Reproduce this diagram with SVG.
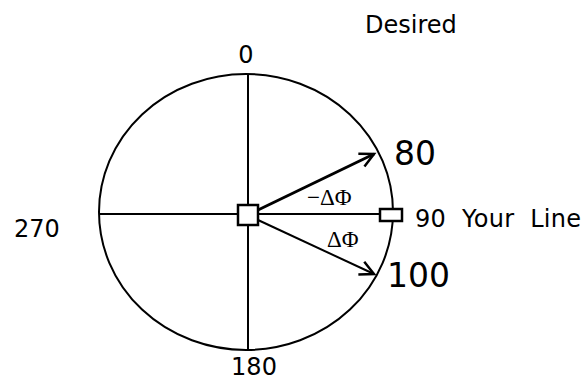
<svg xmlns="http://www.w3.org/2000/svg" width="586" height="380" viewBox="0 0 586 380">
<style>
.ln{stroke:#000;stroke-width:2;fill:none}
.box{fill:#fff;stroke:#000;stroke-width:2.5}
.lbl{font-family:"DejaVu Sans",sans-serif;fill:#000}
.sm{font-size:24px}
.big{font-size:33px}
.ser{font-family:"Liberation Serif","Times New Roman",serif;font-size:23px;fill:#000}
</style>
<defs>
<marker id="ah" markerUnits="userSpaceOnUse" markerWidth="30" markerHeight="30" refX="15" refY="15" orient="auto" viewBox="0 0 30 30">
<path d="M1 8 L15 15 L1 22" fill="none" stroke="#000" stroke-width="2.5"/>
</marker>
</defs>
<g id="dial">
<ellipse class="ln" cx="246" cy="212" rx="147" ry="138"/>
</g>
<g id="connectors">
<line class="ln" x1="248" y1="74" x2="248" y2="350"/>
<line class="ln" x1="99" y1="214" x2="380" y2="214"/>
<line class="ln" style="stroke-width:3" x1="258" y1="210" x2="374" y2="154" marker-end="url(#ah)"/>
<line class="ln" x1="258" y1="220" x2="374" y2="274" marker-end="url(#ah)"/>
</g>
<g id="center"><rect class="box" x="238" y="205" width="20" height="20"/></g>
<g id="yourline"><rect class="box" x="380" y="209" width="22" height="12"/></g>
<g id="labels">
<text class="lbl sm" x="246" y="63" text-anchor="middle">0</text>
<text class="lbl sm" x="254" y="375" text-anchor="middle">180</text>
<text class="lbl sm" x="14" y="237">270</text>
<text class="lbl sm" x="365" y="33">Desired</text>
<text class="lbl sm" x="415" y="227" xml:space="preserve" textLength="166">90  Your  Line</text>
<text class="lbl big" x="394" y="165">80</text>
<text class="lbl big" x="387" y="287">100</text>
<text class="ser" x="307" y="205">−ΔΦ</text>
<text class="ser" x="327" y="247">ΔΦ</text>
</g>
</svg>
